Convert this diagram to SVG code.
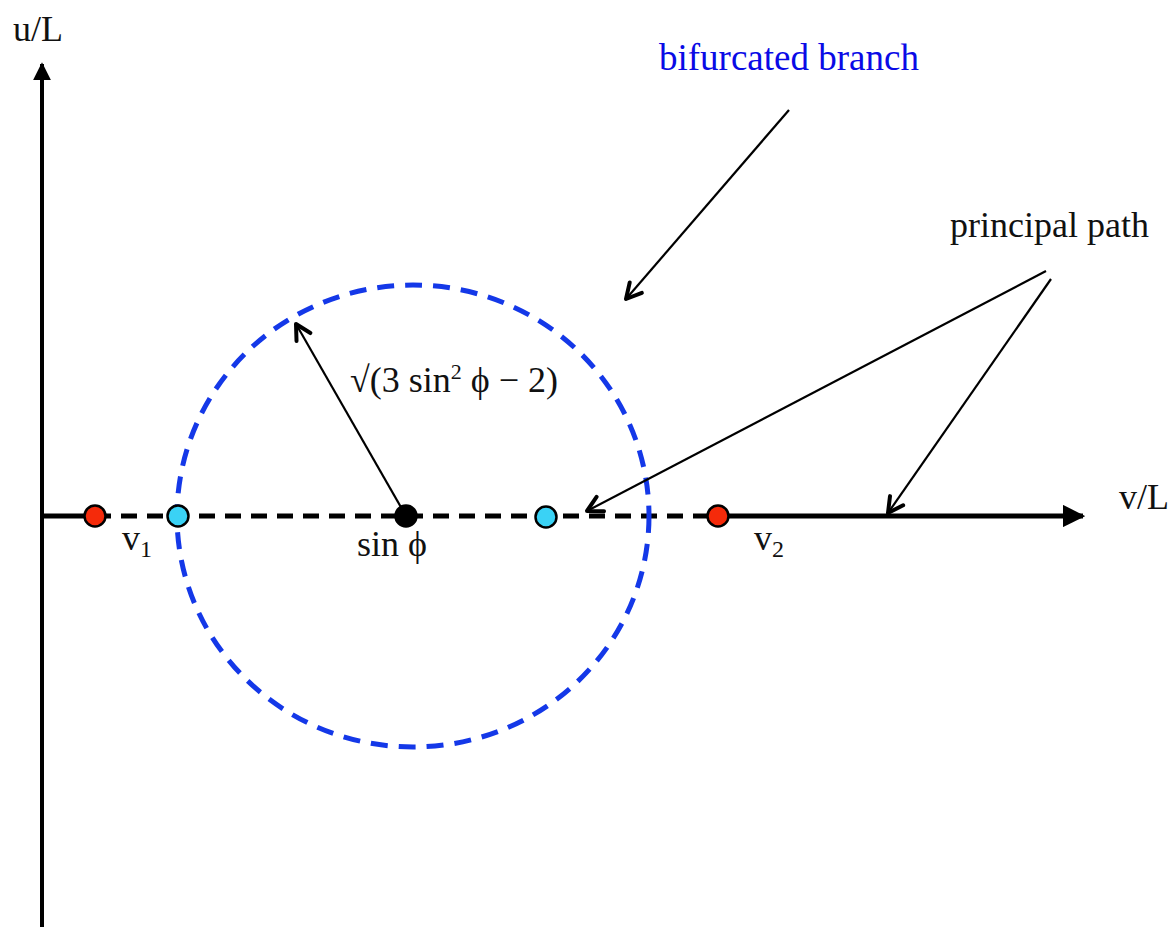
<svg xmlns="http://www.w3.org/2000/svg" width="1173" height="927" viewBox="0 0 1173 927">
<defs>
<marker id="tri" viewBox="0 0 10 10" refX="9" refY="5" markerWidth="4.5" markerHeight="4.5" orient="auto" markerUnits="strokeWidth">
<path d="M0,0 L10,5 L0,10 z" fill="#000"/>
</marker>
<marker id="vee" viewBox="0 0 22 22" refX="19" refY="11" markerWidth="22" markerHeight="22" orient="auto" markerUnits="userSpaceOnUse">
<path d="M4,3 L19,11 L4,19" fill="none" stroke="#000" stroke-width="4" stroke-linecap="round" stroke-linejoin="round"/>
</marker>
<style>
text{font-family:"Liberation Serif","Times New Roman",serif;fill:#111;}
.lbl{font-size:36px;}
.blue{fill:#0a0ae6;font-size:37px;}
.pt{stroke:#000;stroke-width:2.5;}
.lead{stroke:#000;stroke-width:2.2;fill:none;marker-end:url(#vee);}
</style>
</defs>
<rect width="1173" height="927" fill="#fff"/>
<g id="axes">
<line x1="42" y1="927" x2="42" y2="64" stroke="#000" stroke-width="4" marker-end="url(#tri)"/>
<line x1="42" y1="516" x2="95" y2="516" stroke="#000" stroke-width="5"/>
<line x1="95" y1="516" x2="718" y2="516" stroke="#000" stroke-width="5" stroke-dasharray="16,10"/>
<line x1="718" y1="516" x2="1083" y2="516" stroke="#000" stroke-width="5" marker-end="url(#tri)"/>
</g>
<g id="branch">
<ellipse cx="413" cy="516" rx="236" ry="231" fill="none" stroke="#1438e8" stroke-width="5" stroke-dasharray="17,11"/>
</g>
<g id="connectors">
<line class="lead" x1="406" y1="516" x2="296" y2="324"/>
<line class="lead" x1="789" y1="110" x2="626" y2="299"/>
<line class="lead" x1="1046" y1="271" x2="587" y2="511"/>
<line class="lead" x1="1051" y1="279" x2="888" y2="513"/>
</g>
<g id="points">
<circle id="v1pt" class="pt" cx="95" cy="516" r="10.5" fill="#f52a0a"/>
<circle id="c1" class="pt" cx="178" cy="516" r="10.5" fill="#3ad2f5"/>
<circle id="center" class="pt" cx="406" cy="516" r="10.5" fill="#000"/>
<circle id="c2" class="pt" cx="546" cy="517" r="10.5" fill="#3ad2f5"/>
<circle id="v2pt" class="pt" cx="718" cy="516" r="10.5" fill="#f52a0a"/>
</g>
<g id="labels">
<text class="lbl" x="13" y="41">u/L</text>
<text class="lbl" x="1119" y="509">v/L</text>
<text class="lbl" x="122" y="550">v<tspan font-size="24" dy="7">1</tspan></text>
<text class="lbl" x="754" y="550">v<tspan font-size="24" dy="7">2</tspan></text>
<text class="lbl" x="357" y="556">sin ϕ</text>
<text class="lbl" x="350" y="392">√(3 sin<tspan font-size="22" dy="-13">2</tspan><tspan dy="13"> ϕ − 2)</tspan></text>
<text class="blue" x="659" y="70">bifurcated branch</text>
<text class="lbl" x="950" y="237">principal path</text>
</g>
</svg>
